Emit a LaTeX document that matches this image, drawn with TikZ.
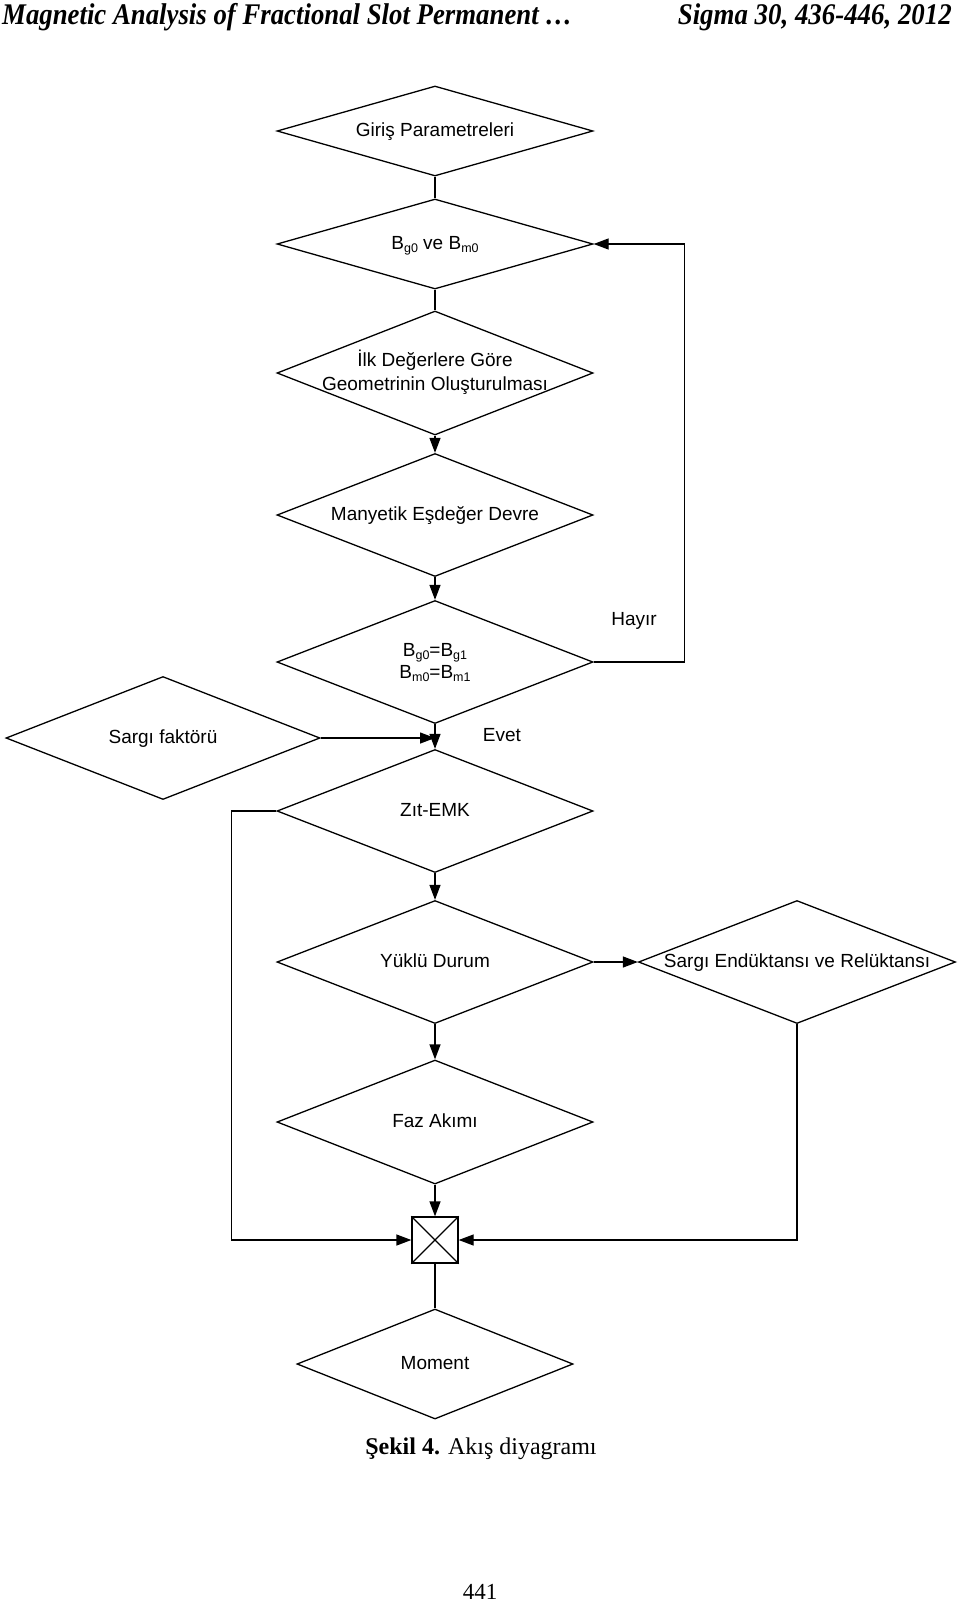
\documentclass[tikz,border=0pt]{standalone}
\usepackage{fontspec}
\setmainfont{Liberation Serif}
\newfontfamily\arialf{Liberation Sans}
\usetikzlibrary{shapes.geometric,arrows.meta}
\newcommand\sbs[1]{\raisebox{-0.3ex}{\fontsize{12.5}{12.5}\selectfont #1}}
\newcommand\ctext[1]{\makebox[0pt]{\begin{tabular}{@{}c@{}}#1\end{tabular}}}
\begin{document}
\begin{tikzpicture}[x=1pt,y=-1pt,
  dia/.style={draw, diamond, line width=1.3pt, inner sep=0pt,
    minimum width=316pt, minimum height=123pt,
    font=\arialf\fontsize{19}{25}\selectfont},
  small/.style={minimum height=90pt},
  lbl/.style={font=\arialf\fontsize{19}{25}\selectfont, inner sep=0pt},
  ln/.style={line width=1.3pt},
  arr/.style={line width=1.3pt, -{Triangle[length=15pt,width=11pt]}},
  mixbox/.style={draw, rectangle, line width=1.3pt, minimum width=46pt, minimum height=46pt, inner sep=0pt}
]
\fill[white] (0,0) rectangle (960,1603);
\useasboundingbox (0,0) rectangle (960,1603);

% header
\node[anchor=base west, inner sep=0pt] (hl) at (2,25)
  {\resizebox{570pt}{\height}{\fontsize{30}{30}\selectfont\bfseries\itshape Magnetic Analysis of Fractional Slot Permanent \ldots}};
\node[anchor=base east, inner sep=0pt] (hr) at (952,25)
  {\resizebox{274pt}{\height}{\fontsize{30}{30}\selectfont\bfseries\itshape Sigma 30, 436-446, 2012}};

% diamonds
\node[dia, small] (d1) at (435,131) {\ctext{Giriş Parametreleri}};
\node[dia, small] (d2) at (435,244) {\ctext{B\sbs{g0} ve B\sbs{m0}}};
\node[dia, minimum height=124pt] (d3) at (435,373) {\ctext{İlk Değerlere Göre\\[-1pt]Geometrinin Oluşturulması}};
\node[dia] (d4) at (435,515) {\ctext{Manyetik Eşdeğer Devre}};
\node[dia] (d5) at (435,662) {\ctext{B\sbs{g0}=B\sbs{g1}\\[-3pt]B\sbs{m0}=B\sbs{m1}}};
\node[dia, minimum width=314pt] (d6) at (163,738) {\ctext{Sargı faktörü}};
\node[dia] (d7) at (435,811) {\ctext{Zıt-EMK}};
\node[dia] (d8) at (435,962) {\ctext{Yüklü Durum}};
\node[dia, minimum width=317pt] (d9) at (797,962) {\ctext{Sargı Endüktansı ve Relüktansı}};
\node[dia, minimum height=124pt] (d10) at (435,1122) {\ctext{Faz Akımı}};
\node[mixbox] (bx) at (435,1240) {};
\draw[ln] (bx.north west) -- (bx.south east) (bx.north east) -- (bx.south west);
\node[dia, minimum width=276pt, minimum height=110pt] (d11) at (435,1364) {\ctext{Moment}};

% labels
\node[lbl] (hay) at (634,621) {Hayır};
\node[lbl] (evt) at (502,735) {Evet};

% connectors
\draw[ln] (d1.south) -- (d2.north);
\draw[ln] (d2.south) -- (d3.north);
\draw[arr] (d3.south) -- (d4.north);
\draw[arr] (d4.south) -- (d5.north);
\draw[arr] (d5.south) -- (d7.north);
\coordinate (join) at (d7.north |- d6.east);
\draw[arr] (d6.east) -- (join);
\draw[arr] (d5.east) -- ++(91,0) |- (d2.east);
\draw[arr] (d7.south) -- (d8.north);
\draw[arr] (d8.south) -- (d10.north);
\draw[arr] (d10.south) -- (bx.north);
\draw[ln] (bx.south) -- (d11.north);
\draw[arr] (d8.east) -- (d9.west);
\draw[arr] (d9.south) |- (bx.east);
\draw[arr] (d7.west) -- ++(-45,0) |- (bx.west);

% caption and page number
\node[anchor=base, inner sep=0pt] (cap) at (481,1454)
  {\fontsize{24}{24}\selectfont\textbf{Şekil 4.} Akış diyagramı};
\node[anchor=base, inner sep=0pt] (pg) at (480,1599)
  {\fontsize{23}{23}\selectfont 441};
\end{tikzpicture}
\end{document}
